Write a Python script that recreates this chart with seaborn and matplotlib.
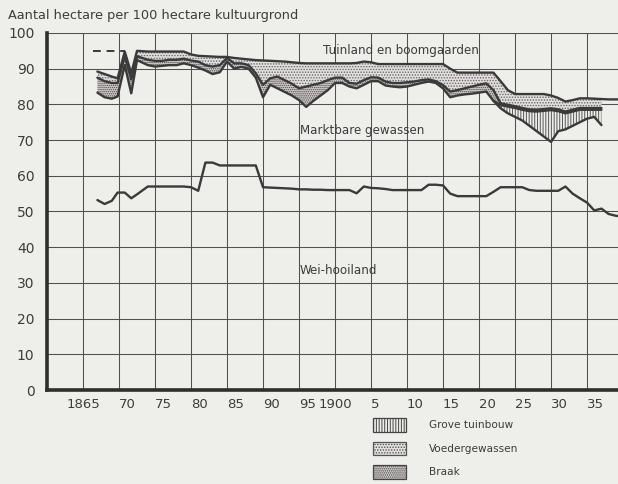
import numpy as np
import pandas as pd
import matplotlib
matplotlib.use("Agg")
import matplotlib.pyplot as plt
from matplotlib.patches import Patch
import seaborn as sns

# ---------------- data ----------------
years = [1867, 1868, 1869, 1869.8, 1870.8, 1871.7, 1872.5] + list(range(1874, 1941))

wei_hooiland = [53.2, 52.1, 53.0, 55.3, 55.3, 53.7, 54.8,
                57.0, 57.0, 57.0, 57.0, 57.0, 57.0, 56.8, 55.8, 63.7, 63.7,
                62.9, 62.9, 62.9, 62.9, 62.9, 62.9, 56.8, 56.7, 56.6, 56.5,
                56.4, 56.2, 56.2, 56.1, 56.1, 56.0, 56.0, 56.0, 56.0, 55.1,
                57.0, 56.6, 56.5, 56.3, 56.0, 56.0, 56.0, 56.0, 56.0, 57.5,
                57.5, 57.3, 55.0, 54.3, 54.3, 54.3, 54.3, 54.3, 55.5, 56.8,
                56.8, 56.8, 56.8, 56.0, 55.8, 55.8, 55.8, 55.8, 57.0, 55.0,
                53.7, 52.5, 50.3, 50.8, 49.3, 48.8, 48.6]

marktbare_top = [83.3, 82.0, 81.6, 82.2, 91.0, 83.1, 92.4,
                 91.0, 90.6, 90.8, 91.0, 91.0, 91.5, 91.0, 90.3, 89.5, 88.5,
                 89.0, 92.0, 90.0, 90.5, 90.0, 87.5, 82.0, 85.5, 84.5, 83.5,
                 82.5, 81.2, 79.3, 81.0, 82.5, 84.0, 86.0, 86.0, 85.0, 84.5,
                 85.5, 86.5, 86.5, 85.3, 85.0, 84.8, 85.0, 85.5, 86.0, 86.4,
                 86.0, 84.5, 82.0, 82.5, 82.8, 83.0, 83.3, 83.6, 81.0, 78.9,
                 77.5, 76.5, 75.5, 74.0, 72.5, 71.0, 69.5, 72.5, 73.0, 74.0,
                 75.0, 76.0, 76.5, 74.2, np.nan, np.nan, np.nan]

grove_tuinbouw_top = [np.nan] * 7 + [np.nan] * 48 + [
                 81.0, 79.8, 79.4, 79.0, 78.5, 78.1, 78.0, 78.2, 78.4, 78.1,
                 77.5, 78.0, 78.5, 78.5, 78.5, 78.5, np.nan, np.nan, np.nan]

braak_top = [87.5, 86.5, 86.0, 86.0, 93.5, 87.0, 93.5,
             92.5, 92.2, 92.2, 92.5, 92.5, 92.8, 92.3, 92.0, 91.0, 90.6,
             91.0, 93.0, 91.5, 91.5, 91.0, 88.7, 85.5, 87.3, 87.8, 86.8,
             85.8, 84.5, 85.0, 85.5, 86.0, 86.8, 87.5, 87.5, 86.0, 85.8,
             86.8, 87.6, 87.5, 86.4, 86.0, 86.0, 86.2, 86.4, 86.8, 87.0,
             86.5, 85.4, 83.6, 84.0, 84.5, 85.0, 85.5, 85.9, 84.0, 80.3,
             79.9, 79.5, 79.0, 78.6, 78.5, 78.7, 78.9, 78.6, 78.0, 78.5,
             79.0, 79.0, 79.0, 79.0, np.nan, np.nan, np.nan]

voeder_top = [89.2, 88.5, 87.8, 87.3, 94.8, 88.7, 95.0,
              94.8, 94.8, 94.8, 94.8, 94.8, 94.8, 94.0, 93.6, 93.5, 93.4,
              93.3, 93.3, 93.0, 92.8, 92.6, 92.4, 92.3, 92.2, 92.1, 92.0,
              91.8, 91.6, 91.5, 91.5, 91.5, 91.5, 91.5, 91.5, 91.5, 91.6,
              92.0, 91.8, 91.3, 91.3, 91.3, 91.3, 91.3, 91.3, 91.3, 91.3,
              91.3, 91.3, 90.0, 88.9, 88.9, 88.9, 88.9, 88.9, 88.9, 86.5,
              84.0, 82.9, 82.9, 82.9, 82.9, 82.9, 82.5, 81.8, 80.8, 81.2,
              81.7, 81.7, 81.6, 81.5, 81.4, 81.4, 81.4]

dashed_years = [1866.4, 1870.8]
dashed_values = [95.0, 95.0]

xtick_years = list(range(1865, 1940, 5))
xtick_labels = ["1865", "70", "75", "80", "85", "90", "95", "1900",
                "5", "10", "15", "20", "25", "30", "35"]
ytick_values = list(range(0, 101, 10))

legend_labels = ["Grove tuinbouw", "Voedergewassen", "Braak"]

# ---------------- styling ----------------
sns.set_theme(style="white")
plt.rcParams["font.family"] = ["DejaVu Sans"]
plt.rcParams["hatch.linewidth"] = 0.7

BG = "#eeeeeb"
INK = "#3a3a3a"
TXT = "#3c3c3c"
VOEDER_FACE = "#e3dfdf"
BRAAK_FACE = "#d2cccc"

fig = plt.figure(figsize=(6.18, 4.84), dpi=100, facecolor=BG)
ax = fig.add_axes([47 / 618, 94 / 484, 571 / 618, 357 / 484])
ax.set_facecolor(BG)

yr = np.array(years, dtype=float)
p = np.array(wei_hooiland, dtype=float)
m = np.array(marktbare_top, dtype=float)
g_raw = np.array(grove_tuinbouw_top, dtype=float)
g = np.where(np.isnan(g_raw), m, g_raw)
b = np.array(braak_top, dtype=float)
t = np.array(voeder_top, dtype=float)

# fills
ax.fill_between(yr, m, g, facecolor=BG, edgecolor="#555555", hatch="||||||",
                linewidth=0, zorder=2)
ax.fill_between(yr, g, b, facecolor=BRAAK_FACE, edgecolor="#4a4a4a",
                hatch="........", linewidth=0, zorder=2)
ax.fill_between(yr, b, t, facecolor=VOEDER_FACE, edgecolor="#666666",
                hatch="......", linewidth=0, zorder=2)

# lines via seaborn
df = pd.DataFrame({
    "year": np.concatenate([yr] * 5),
    "value": np.concatenate([p, m, g_raw, b, t]),
    "series": (["Wei-hooiland"] * len(yr) + ["Marktbare gewassen"] * len(yr)
               + ["Grove tuinbouw"] * len(yr) + ["Braak"] * len(yr)
               + ["Tuinland en boomgaarden"] * len(yr)),
})
pal = {s: INK for s in df["series"].unique()}
sns.lineplot(data=df.dropna(), x="year", y="value", hue="series",
             palette=pal, estimator=None, sort=True, legend=False,
             linewidth=1.7, ax=ax, zorder=4)

ax.plot(dashed_years, dashed_values, color=INK, linewidth=1.4,
        linestyle=(0, (4, 3)), zorder=4)

# axes
ax.set_xlim(1860, 1939.3)
ax.set_ylim(0, 100)
ax.set_xticks(xtick_years)
ax.set_xticklabels(xtick_labels)
ax.set_yticks(ytick_values)
ax.set_yticklabels([str(v) for v in ytick_values])
ax.grid(True, color="#505050", linewidth=0.75)
ax.set_axisbelow(True)
ax.set_xlabel("")
ax.set_ylabel("")
for s in ["top", "right"]:
    ax.spines[s].set_visible(False)
for s in ["left", "bottom"]:
    ax.spines[s].set_color("#2e2e2e")
    ax.spines[s].set_linewidth(2.6)
ax.tick_params(axis="both", length=0, colors=TXT)
ax.tick_params(axis="y", labelsize=10, pad=9)
ax.tick_params(axis="x", labelsize=9.5, pad=6)
for lab in ax.get_xticklabels():
    lab.set_horizontalalignment("center" if len(lab.get_text()) == 4 else "left")

# annotations
ax.text(1898.3, 95.0, "Tuinland en boomgaarden", fontsize=8.6, color=TXT,
        va="center", ha="left", zorder=5)
ax.text(1895.1, 72.8, "Marktbare gewassen", fontsize=8.6, color=TXT,
        va="center", ha="left", zorder=5)
ax.text(1895.1, 33.6, "Wei-hooiland", fontsize=8.6, color=TXT,
        va="center", ha="left", zorder=5)

fig.text(8 / 618, 1 - 19 / 484, "Aantal hectare per 100 hectare kultuurgrond",
         fontsize=9.3, color=TXT, ha="left", va="baseline")

handles = [
    Patch(facecolor=BG, edgecolor="#444444", hatch="||||||", linewidth=0.9),
    Patch(facecolor=VOEDER_FACE, edgecolor="#555555", hatch="......", linewidth=0.9),
    Patch(facecolor=BRAAK_FACE, edgecolor="#444444", hatch="........", linewidth=0.9),
]
fig.legend(handles, legend_labels, loc="upper left",
           bbox_to_anchor=(373 / 618, 1 - 418 / 484), frameon=False,
           handlelength=3.1, handleheight=1.6, handletextpad=2.2,
           labelspacing=0.95, fontsize=7.6, labelcolor=TXT,
           borderaxespad=0, borderpad=0)

fig.savefig("out.png", dpi=100, facecolor=BG)
